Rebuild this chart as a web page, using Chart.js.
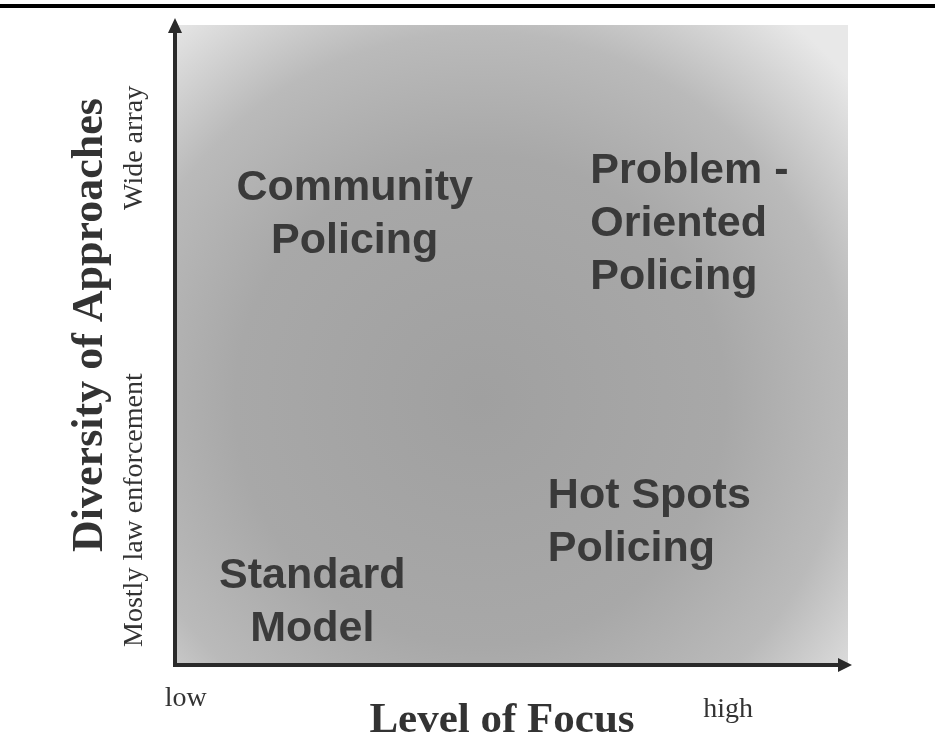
<!DOCTYPE html>
<html>

<head>
    <title>Policing Strategies</title>
    <script src="https://cdn.jsdelivr.net/npm/chart.js"></script>
    <style type="text/css">
        body {
            margin: 0;
            background: #fff;
        }
    </style>
</head>

<body>
    <canvas id="myChart" width="935" height="751"></canvas>

    <script>
        // quadrant labels, placed in axis units (0 = low, 10 = high)
        const quadrantLabels = [['Community', 'Policing'], ['Problem -', 'Oriented', 'Policing'], ['Hot Spots', 'Policing'], ['Standard', 'Model']];
        const quadrantX = [2.64, 6.14, 5.51, 2.01];
        const quadrantY = [7.03, 6.89, 2.22, 0.97];
        const quadrantAlign = ['center', 'left', 'left', 'center'];

        const xTitle = 'Level of Focus';
        const yTitle = 'Diversity of Approaches';
        const xTickLabels = ['low', 'high'];
        const xTickValues = [0.13, 8.19];
        const yTickLabels = ['Mostly law enforcement', 'Wide array'];
        const yTickValues = [2.42, 8.08];

        const ink = '#333';

        const quadrantPlugin = {
            id: 'quadrant',
            beforeDraw(chart) {
                const ctx = chart.ctx;
                const a = chart.chartArea;
                ctx.save();
                // top rule
                ctx.fillStyle = '#000';
                ctx.fillRect(0, 4, 935, 4);
                // shaded field
                const g = ctx.createRadialGradient(480, 400, 0, 480, 400, 490);
                g.addColorStop(0, '#a0a0a0');
                g.addColorStop(0.5, '#a8a8a8');
                g.addColorStop(0.75, '#bababa');
                g.addColorStop(1, '#e8e8e8');
                ctx.fillStyle = g;
                ctx.fillRect(a.left, a.top, a.right - a.left - 2, a.bottom - a.top);
                ctx.restore();
            },
            afterDraw(chart) {
                const ctx = chart.ctx;
                const a = chart.chartArea;
                const xs = chart.scales.x;
                const ys = chart.scales.y;
                ctx.save();

                // axes with arrows
                ctx.strokeStyle = '#2a2a2a';
                ctx.fillStyle = '#2a2a2a';
                ctx.lineWidth = 4;
                ctx.beginPath();
                ctx.moveTo(a.left - 2, a.bottom + 2);
                ctx.lineTo(a.left - 2, a.top);
                ctx.moveTo(a.left - 4, a.bottom);
                ctx.lineTo(a.right - 4, a.bottom);
                ctx.stroke();
                ctx.beginPath();
                ctx.moveTo(a.left - 2, 18);
                ctx.lineTo(a.left - 9, 33);
                ctx.lineTo(a.left + 5, 33);
                ctx.closePath();
                ctx.fill();
                ctx.beginPath();
                ctx.moveTo(a.right + 2, a.bottom);
                ctx.lineTo(a.right - 12, a.bottom - 7);
                ctx.lineTo(a.right - 12, a.bottom + 7);
                ctx.closePath();
                ctx.fill();

                // quadrant labels
                ctx.fillStyle = '#3a3a3a';
                ctx.font = 'bold 43px "Liberation Sans", Arial, sans-serif';
                ctx.textBaseline = 'middle';
                const meta = chart.getDatasetMeta(0);
                const lh = 53;
                quadrantLabels.forEach((lines, i) => {
                    const pt = meta.data[i];
                    ctx.textAlign = quadrantAlign[i];
                    const y0 = pt.y - (lines.length - 1) * lh / 2;
                    lines.forEach((t, j) => ctx.fillText(t, pt.x, y0 + j * lh));
                });

                // x tick labels and title
                ctx.fillStyle = ink;
                ctx.textAlign = 'center';
                ctx.font = '28px "Liberation Serif", "Times New Roman", serif';
                ctx.fillText(xTickLabels[0], xs.getPixelForValue(xTickValues[0]), 699);
                ctx.fillText(xTickLabels[1], xs.getPixelForValue(xTickValues[1]), 710);
                ctx.font = 'bold 43px "Liberation Serif", "Times New Roman", serif';
                ctx.fillText(xTitle, 502, 721);

                // y tick labels and title (rotated)
                ctx.font = '28px "Liberation Serif", "Times New Roman", serif';
                yTickLabels.forEach((t, i) => {
                    ctx.save();
                    ctx.translate(135, ys.getPixelForValue(yTickValues[i]));
                    ctx.rotate(-Math.PI / 2);
                    ctx.fillText(t, 0, 0);
                    ctx.restore();
                });
                ctx.save();
                ctx.translate(91, 325);
                ctx.rotate(-Math.PI / 2);
                ctx.font = 'bold 44px "Liberation Serif", "Times New Roman", serif';
                ctx.fillText(yTitle, 0, 0);
                ctx.restore();

                ctx.restore();
            }
        };

        var ctx = document.getElementById('myChart').getContext('2d');
        var myChart = new Chart(ctx, {
            type: 'scatter',
            data: {
                datasets: [{
                    data: quadrantX.map((x, i) => ({ x: x, y: quadrantY[i] })),
                    pointRadius: 0
                }]
            },
            options: {
                responsive: false,
                animation: false,
                layout: { padding: { left: 177, right: 85, top: 25, bottom: 86 } },
                plugins: { legend: { display: false }, tooltip: { enabled: false } },
                scales: {
                    x: { display: false, min: 0, max: 10 },
                    y: { display: false, min: 0, max: 10 }
                }
            },
            plugins: [quadrantPlugin]
        });
    </script>
</body>

</html>
